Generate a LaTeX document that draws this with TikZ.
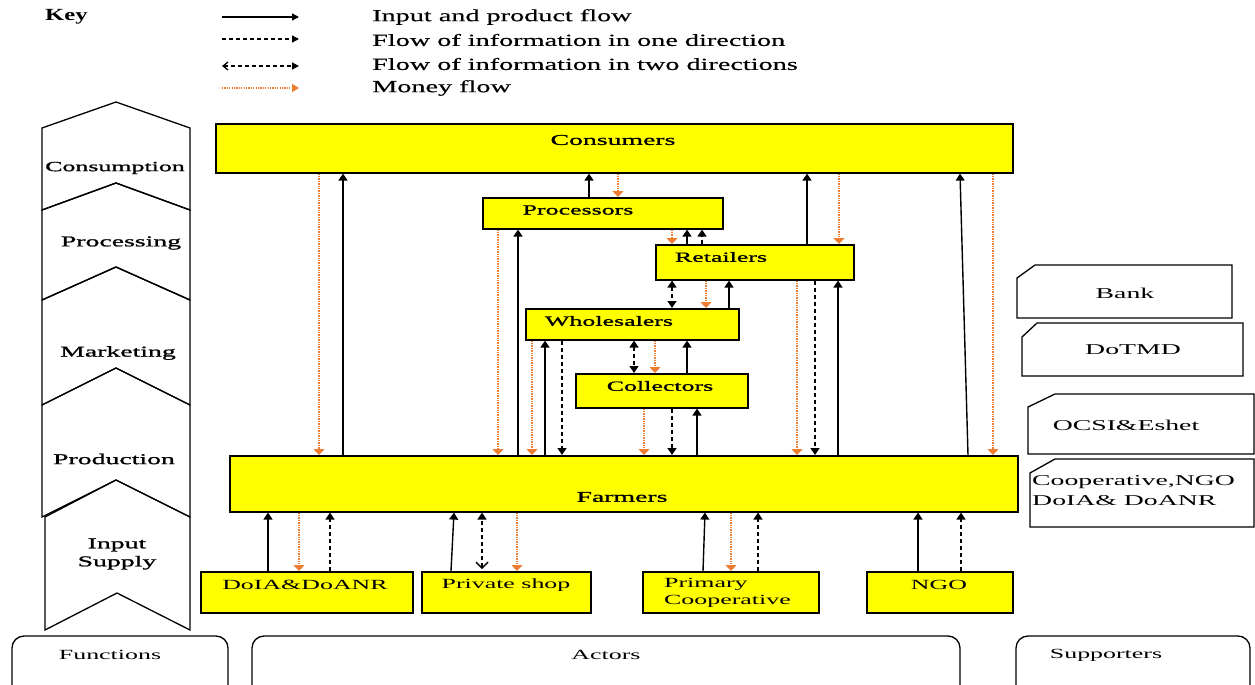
\documentclass[tikz,border=0pt]{standalone}
\usepackage{fontspec}
\setmainfont{Liberation Serif}[FakeStretch=1.85]
\newfontfamily\boldish{Liberation Serif}[FakeStretch=1.85, FakeBold=1.2]
\newfontfamily\keyfont{Liberation Serif}[FakeStretch=1.66, FakeBold=0.4]
\newfontfamily\keyhead{Liberation Serif}[FakeStretch=1.45]
\usetikzlibrary{arrows.meta}
\definecolor{boxyellow}{RGB}{255,255,0}
\definecolor{moneyc}{RGB}{237,125,49}
\tikzset{
  ybox/.style={draw=black, line width=1.6pt, fill=boxyellow, inner sep=0pt, anchor=north west},
  lbl/.style={font=\boldish\fontsize{15}{17}\selectfont, inner sep=0pt},
  lbls/.style={font=\boldish\fontsize{14}{16}\selectfont, inner sep=0pt},
  slbl/.style={font=\fontsize{14}{16}\selectfont, inner sep=0pt},
  rlbl/.style={font=\fontsize{15}{17}\selectfont, inner sep=0pt},
  keytxt/.style={font=\keyfont\fontsize{17}{19}\selectfont, inner sep=0pt, anchor=west},
  flow/.style={line width=1.4pt, -{Triangle[length=7pt,width=9pt]}},
  info/.style={line width=1.4pt, dash pattern=on 4pt off 3pt, -{Triangle[length=7pt,width=9pt]}},
  info2/.style={line width=1.4pt, dash pattern=on 4pt off 3pt, {Triangle[length=7pt,width=9pt]}-{Triangle[length=7pt,width=9pt]}},
  money/.style={draw=moneyc, line width=1.3pt, dash pattern=on 1.3pt off 1.1pt, -{Triangle[length=6pt,width=11pt]}},
  chev/.style={draw=black, line width=1.3pt, line join=miter},
  suppbox/.style={draw=black, line width=1.3pt},
  funcbox/.style={draw=black, line width=1.3pt, rounded corners=12pt},
}
\begin{document}
\begin{tikzpicture}[x=1pt,y=-1pt]
\useasboundingbox (0,0) rectangle (1255,685);
\clip (0,0) rectangle (1255,685);

% ---------- Key ----------
\node[font=\keyhead\bfseries\fontsize{17}{19}\selectfont, inner sep=0pt, anchor=west] (keyt) at (45,17) {Key};
\coordinate (k1a) at (222,17); \coordinate (k1b) at (299,17);
\coordinate (k2a) at (222,39); \coordinate (k2b) at (299,39);
\coordinate (k3a) at (222,66); \coordinate (k3b) at (299,66);
\coordinate (k4a) at (222,88); \coordinate (k4b) at (299,88);
\draw[line width=1.3pt, -{Triangle[length=7pt,width=7pt]}] (k1a) -- (k1b);
\draw[line width=1.3pt, dash pattern=on 4pt off 3pt, -{Triangle[length=7pt,width=7pt]}] (k2a) -- (k2b);
\draw[line width=1.3pt, dash pattern=on 4pt off 3pt, {Straight Barb[length=5pt,width=8pt]}-{Triangle[length=7pt,width=7pt]}] (k3a) -- (k3b);
\draw[draw=moneyc, line width=1.2pt, dash pattern=on 1.2pt off 1.2pt, -{Triangle[length=7pt,width=8pt]}] (k4a) -- (k4b);
\node[keytxt] (kl1) at (372,17) {Input and product flow};
\node[keytxt] (kl2) at (372,40) {Flow of information in one direction};
\node[keytxt] (kl3) at (372,64) {Flow of information in two directions};
\node[keytxt] (kl4) at (372,88) {Money flow};

% ---------- Function chevrons ----------
\draw[chev] (42,128) -- (116,102) -- (190,128) -- (190,210) -- (116,183) -- (42,210) -- cycle;
\draw[chev] (42,210) -- (116,183) -- (190,210) -- (190,300) -- (116,267) -- (42,300) -- cycle;
\draw[chev] (42,300) -- (116,267) -- (190,300) -- (190,405) -- (116,368) -- (42,405) -- cycle;
\draw[chev] (42,405) -- (116,368) -- (190,405) -- (190,517) -- (116,480) -- (42,517) -- cycle;
\draw[chev] (45,517) -- (116,480) -- (190,517) -- (190,630) -- (117,593) -- (45,630) -- cycle;
\node[lbls] (fcons) at (115,168) {Consumption};
\node[lbl] (fproc) at (121,243) {Processing};
\node[lbl] (fmark) at (118,353) {Marketing};
\node[lbl] (fprod) at (114,459) {Production};
\node[lbl, align=center, font=\boldish\fontsize{15}{18}\selectfont] (finp) at (117,554) {Input\\Supply};

% ---------- Actor boxes ----------
\node[ybox, minimum width=797pt, minimum height=49pt] (cons) at (215,123) {};
\node[ybox, minimum width=240pt, minimum height=31pt] (proc) at (482,197) {};
\node[ybox, minimum width=198pt, minimum height=35pt] (ret) at (655,244) {};
\node[ybox, minimum width=213pt, minimum height=31pt] (whol) at (525,308) {};
\node[ybox, minimum width=172pt, minimum height=34pt] (coll) at (575,373) {};
\node[ybox, minimum width=788pt, minimum height=56pt] (farm) at (229,455) {};
\node[ybox, minimum width=212pt, minimum height=41pt] (doia) at (200,571) {};
\node[ybox, minimum width=169pt, minimum height=41pt] (priv) at (421,571) {};
\node[ybox, minimum width=176pt, minimum height=41pt] (prim) at (642,571) {};
\node[ybox, minimum width=146pt, minimum height=41pt] (ngo) at (866,571) {};

\node[lbl] (lcons) at (613,140) {Consumers};
\node[lbls] (lproc) at (578,210) {Processors};
\node[lbls] (lret) at (721,257) {Retailers};
\node[lbls] (lwhol) at (609,321) {Wholesalers};
\node[lbls] (lcoll) at (660,386) {Collectors};
\node[lbl] (lfarm) at (622,497) {Farmers};
\node[slbl] (ldoia) at (305,585) {DoIA\&DoANR};
\node[slbl] (lpriv) at (506,585) {Private shop};
\node[slbl, anchor=west] (lprim1) at (664,584) {Primary};
\node[slbl, anchor=west] (lprim2) at (664,601) {Cooperative};
\node[slbl] (lngo) at (939,585) {NGO};

% ---------- Connectors: Consumers ----------
\draw[money] (319,0 |- cons.south) -- (319,0 |- farm.north);
\draw[flow] (343,0 |- farm.north) -- (343,0 |- cons.south);
\draw[flow] (968,0 |- farm.north) -- (960,0 |- cons.south);
\draw[money] (993,0 |- cons.south) -- (993,0 |- farm.north);
\draw[flow] (589,0 |- proc.north) -- (589,0 |- cons.south);
\draw[money] (618,0 |- cons.south) -- (618,0 |- proc.north);
\draw[flow] (807,0 |- ret.north) -- (807,0 |- cons.south);
\draw[money] (839,0 |- cons.south) -- (839,0 |- ret.north);

% Processors
\draw[money] (498,0 |- proc.south) -- (498,0 |- farm.north);
\draw[flow] (518,0 |- farm.north) -- (518,0 |- proc.south);
\draw[money] (672,0 |- proc.south) -- (672,0 |- ret.north);
\draw[flow] (687,0 |- ret.north) -- (687,0 |- proc.south);
\draw[info] (702,0 |- ret.north) -- (702,0 |- proc.south);

% Retailers
\draw[info2] (672,0 |- ret.south) -- (672,0 |- whol.north);
\draw[money] (706,0 |- ret.south) -- (706,0 |- whol.north);
\draw[flow] (729,0 |- whol.north) -- (729,0 |- ret.south);
\draw[money] (797,0 |- ret.south) -- (797,0 |- farm.north);
\draw[info] (815,0 |- ret.south) -- (815,0 |- farm.north);
\draw[flow] (838,0 |- farm.north) -- (838,0 |- ret.south);

% Wholesalers
\draw[money] (532,0 |- whol.south) -- (532,0 |- farm.north);
\draw[flow] (545,0 |- farm.north) -- (545,0 |- whol.south);
\draw[info] (562,0 |- whol.south) -- (562,0 |- farm.north);
\draw[info2] (634,0 |- whol.south) -- (634,0 |- coll.north);
\draw[money] (655,0 |- whol.south) -- (655,0 |- coll.north);
\draw[flow] (687,0 |- coll.north) -- (687,0 |- whol.south);

% Collectors
\draw[money] (644,0 |- coll.south) -- (644,0 |- farm.north);
\draw[info] (672,0 |- coll.south) -- (672,0 |- farm.north);
\draw[flow] (697,0 |- farm.north) -- (697,0 |- coll.south);

% Input suppliers
\draw[flow] (268,0 |- doia.north) -- (268,0 |- farm.south);
\draw[money] (299,0 |- farm.south) -- (299,0 |- doia.north);
\draw[info] (330,0 |- doia.north) -- (330,0 |- farm.south);
\draw[flow] (451,0 |- priv.north) -- (454,0 |- farm.south);
\draw[line width=1.4pt, dash pattern=on 4pt off 3pt, {Straight Barb[length=6pt,width=12pt]}-{Triangle[length=7pt,width=9pt]}] ([yshift=2pt]482,0 |- priv.north) -- (482,0 |- farm.south);
\draw[money] (517,0 |- farm.south) -- (517,0 |- priv.north);
\draw[flow] (703,0 |- prim.north) -- (705,0 |- farm.south);
\draw[money] (731,0 |- farm.south) -- (731,0 |- prim.north);
\draw[info] (758,0 |- prim.north) -- (758,0 |- farm.south);
\draw[flow] (918,0 |- ngo.north) -- (918,0 |- farm.south);
\draw[info] (961,0 |- ngo.north) -- (961,0 |- farm.south);

% ---------- Supporters ----------
\draw[suppbox] (1017,318) -- (1017,278) -- (1035,265) -- (1232,265) -- (1232,318) -- cycle;
\draw[suppbox] (1022,376) -- (1022,337) -- (1037,323) -- (1243,323) -- (1243,376) -- cycle;
\draw[suppbox] (1028,454) -- (1028,407) -- (1055,394) -- (1254,394) -- (1254,454) -- cycle;
\draw[suppbox] (1030,527) -- (1030,473) -- (1055,459) -- (1254,459) -- (1254,527) -- cycle;
\node[rlbl] (sbank) at (1125,293) {Bank};
\node[rlbl] (sdotmd) at (1133,350) {DoTMD};
\node[rlbl] (socsi) at (1126,425) {OCSI\&Eshet};
\node[rlbl, anchor=west] (scoop1) at (1032,482) {Cooperative,NGO};
\node[rlbl, anchor=west] (scoop2) at (1032,501) {DoIA\& DoANR};

% ---------- Bottom category boxes ----------
\draw[funcbox] (12,636) rectangle (228,702);
\draw[funcbox] (252,636) rectangle (960,702);
\draw[funcbox] (1016,636) rectangle (1250,702);
\node[slbl] (cfun) at (110,655) {Functions};
\node[slbl] (cact) at (606,655) {Actors};
\node[slbl] (csup) at (1106,655) {Supporters};
\end{tikzpicture}
\end{document}
